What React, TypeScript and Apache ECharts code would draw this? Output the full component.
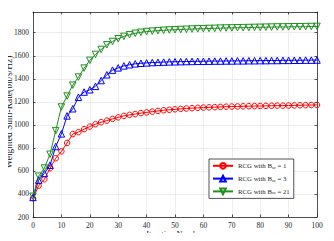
import React, { useEffect, useRef } from "react";
import * as echarts from "echarts";

const iterations = [0,2,4,6,8,10,12,14,16,18,20,22,24,26,28,30,32,34,36,38,40,42,44,46,48,50,52,54,56,58,60,62,64,66,68,70,72,74,76,78,80,82,84,86,88,90,92,94,96,98,100];

const rcg1 = [363,472,528,623,710,770,843,920,937,963,985,1006,1023,1037,1052,1065,1078,1087,1094,1102,1108,1115,1121,1127,1131,1135,1139,1142,1145,1148,1150,1152,1154,1156,1158,1159,1160,1161,1162,1163,1164,1165,1166,1167,1167,1168,1169,1170,1171,1172,1173];

const rcg3 = [370,520,578,650,812,922,1078,1140,1240,1285,1305,1335,1385,1435,1475,1495,1512,1522,1530,1535,1538,1541,1543,1545,1547,1548,1549,1550,1551,1552,1552,1553,1554,1554,1555,1555,1556,1556,1557,1557,1558,1558,1559,1559,1560,1560,1561,1561,1562,1562,1563];

const rcg21 = [380,555,625,745,950,1155,1250,1345,1415,1493,1560,1612,1655,1695,1724,1748,1768,1783,1795,1804,1810,1814,1818,1821,1824,1826,1828,1830,1832,1834,1835,1837,1838,1840,1841,1842,1843,1844,1845,1846,1847,1848,1849,1850,1850,1851,1852,1852,1853,1854,1855];

const seriesNames = ["RCG with B_sc = 1", "RCG with B_sc = 3", "RCG with B_sc = 21"];
const xTitle = "Iteration Number";
const yTitle = "Weighted Sum-Rate(bit/s/Hz)";

const FONT = "Liberation Serif";
const AXIS = "#262626";

export default function App() {
  const ref = useRef<HTMLDivElement>(null);
  useEffect(() => {
    if (!ref.current) return;
    const chart = echarts.init(ref.current, null, { renderer: "svg" });
    const mk = (name: string, vals: number[], color: string, symbol: string, size: number, rot = 0) => ({
      name,
      type: "line",
      data: iterations.map((x, i) => [x, vals[i]]),
      xAxisIndex: 0,
      yAxisIndex: 0,
      symbol,
      symbolSize: size,
      symbolRotate: rot,
      showAllSymbol: true,
      color,
      lineStyle: { color, width: 1 },
      itemStyle: { color: "rgba(255,255,255,0)", borderColor: color, borderWidth: 1 },
      emphasis: { disabled: true },
    });
    chart.setOption({
      animation: false,
      backgroundColor: "#fff",
      textStyle: { fontFamily: FONT },
      grid: { left: 33, right: 17, top: 12, bottom: 24, show: false, containLabel: false, outerBoundsMode: "none" },
      graphic: [
        {
          type: "text", x: 175, y: 234,
          style: { text: xTitle, fontFamily: FONT, fontSize: 8.3, fill: AXIS, align: "center", verticalAlign: "middle" },
        },
        {
          type: "text", x: 9, y: 112, rotation: Math.PI / 2,
          style: { text: yTitle, fontFamily: FONT, fontSize: 9.5, fill: AXIS, align: "center", verticalAlign: "middle" },
        },
      ],
      xAxis: [
        {
          type: "value", min: 0, max: 100, interval: 10, position: "bottom",
          axisLine: { show: true, lineStyle: { color: AXIS, width: 0.8 } },
          axisTick: { show: true, inside: true, length: 2.5, lineStyle: { color: AXIS, width: 0.8 } },
          axisLabel: { fontFamily: FONT, fontSize: 7.5, color: AXIS, margin: 4 },
          splitLine: { show: true, lineStyle: { color: "#e8e8e8", width: 0.8 } },
        },
        {
          type: "value", min: 0, max: 100, interval: 10, position: "top",
          axisLine: { show: true, onZero: false, lineStyle: { color: AXIS, width: 0.8 } },
          axisTick: { show: true, inside: true, length: 2.5, lineStyle: { color: AXIS, width: 0.8 } },
          axisLabel: { show: false },
          splitLine: { show: false },
        },
      ],
      yAxis: [
        {
          type: "value", min: 200, max: 1980, interval: 200, position: "left",
          axisLine: { show: true, onZero: false, lineStyle: { color: AXIS, width: 0.8 } },
          axisTick: { show: true, inside: true, length: 2.5, lineStyle: { color: AXIS, width: 0.8 } },
          axisLabel: {
            fontFamily: FONT, fontSize: 7.5, color: AXIS, margin: 4, showMaxLabel: false,
            formatter: (v: number) => (v % 200 === 0 ? String(v) : ""),
          },
          splitLine: { show: true, lineStyle: { color: "#e8e8e8", width: 0.8 } },
        },
        {
          type: "value", min: 200, max: 1980, interval: 200, position: "right",
          axisLine: { show: true, onZero: false, lineStyle: { color: AXIS, width: 0.8 } },
          axisTick: { show: true, inside: true, length: 2.5, lineStyle: { color: AXIS, width: 0.8 } },
          axisLabel: { show: false },
          splitLine: { show: false },
        },
      ],
      legend: {
        orient: "vertical",
        left: 209,
        top: 159,
        padding: [3, 4, 3, 3],
        itemGap: 5,
        itemWidth: 20,
        itemHeight: 7,
        borderColor: AXIS,
        borderWidth: 0.8,
        borderRadius: 0,
        backgroundColor: "#fff",
        data: seriesNames,
        formatter: (n: string) => n.replace("B_sc", "B{sub|sc}"),
        textStyle: {
          fontFamily: FONT, fontSize: 6.8, color: AXIS,
          rich: { sub: { fontFamily: FONT, fontSize: 4.5, color: AXIS, padding: [3, 0, 0, 0] } },
        },
      },
      series: [
        mk(seriesNames[0], rcg1, "#ff0000", "circle", 5.5),
        mk(seriesNames[1], rcg3, "#0000ff", "triangle", 6.5),
        mk(seriesNames[2], rcg21, "#1f911f", "triangle", 6.5, 180),
      ],
    });
    return () => chart.dispose();
  }, []);
  return <div ref={ref} style={{ width: 334, height: 241, margin: -8 }} />;
}
